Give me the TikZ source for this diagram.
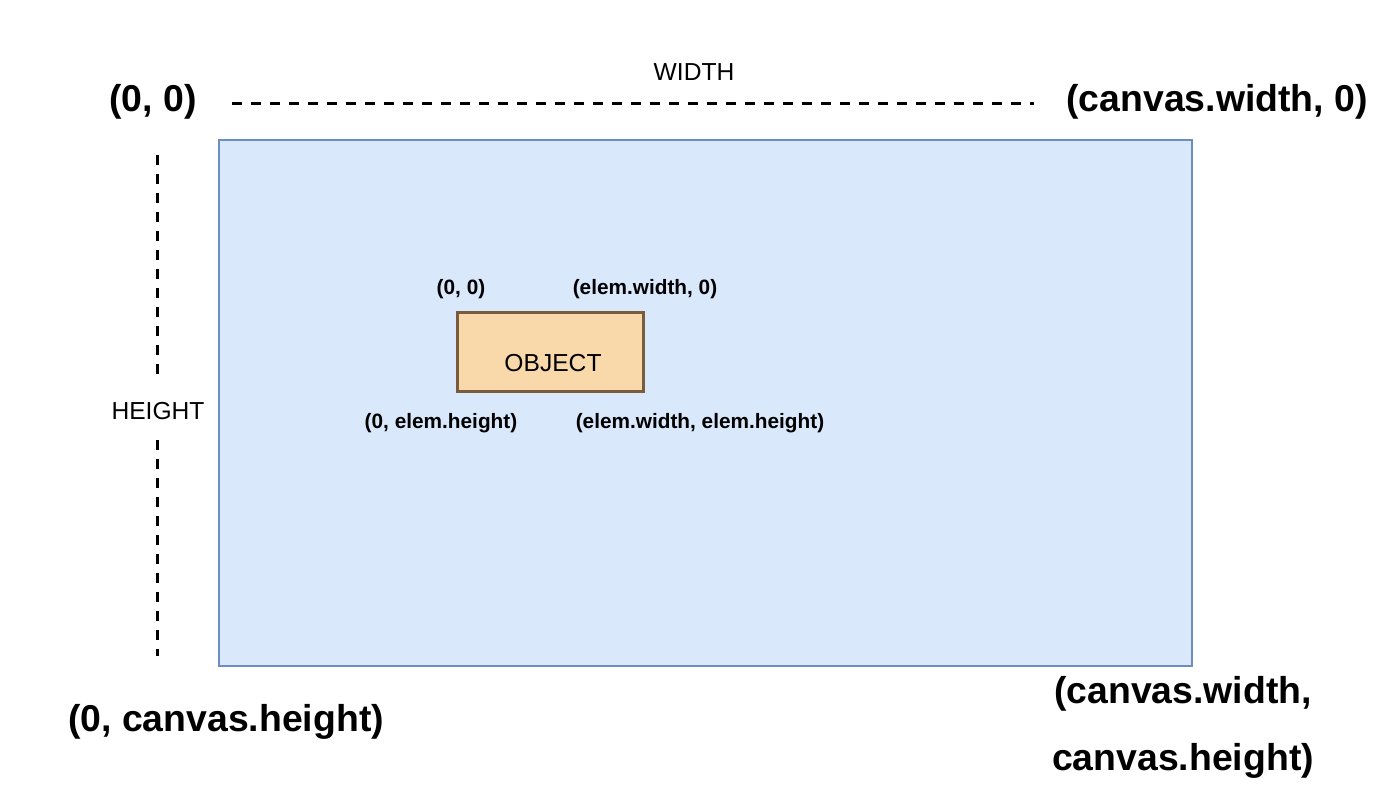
\documentclass[tikz,border=0pt]{standalone}
\usepackage{fontspec}
\setmainfont{Liberation Sans}
\definecolor{canvasfill}{HTML}{DAE8FC}
\definecolor{canvasline}{HTML}{6C8EBF}
\definecolor{objfill}{HTML}{F9D8AA}
\definecolor{objline}{HTML}{7A5C3C}
\begin{document}
\begin{tikzpicture}[x=0.5pt,y=-0.5pt,
  biglabel/.style={font=\fontsize{18.7pt}{22pt}\selectfont\bfseries, inner sep=0pt, align=center},
  smalllabel/.style={font=\fontsize{10.4pt}{12pt}\selectfont\bfseries, inner sep=0pt},
  dimlabel/.style={font=\fontsize{12.3pt}{14pt}\selectfont, inner sep=0pt},
  dimline/.style={line width=1.5pt, dash pattern=on 5pt off 4.5pt}]
\useasboundingbox (0,0) rectangle (1400,798);
\node[draw=canvasline, fill=canvasfill, line width=1.2pt, minimum width=486.5pt, minimum height=263pt, inner sep=0pt] (canvas) at (705.5,403) {};
\node[draw=objline, fill=objfill, line width=1.5pt, minimum width=93pt, minimum height=39.5pt, inner sep=0pt] (obj) at (550,351.5) {};
\node[dimlabel] (objlabel) at (553,363) {OBJECT};
\node[biglabel] (tl) at (153,102) {(0, 0)};
\node[biglabel] (tr) at (1217,102) {(canvas.width, 0)};
\node[biglabel] (bl) at (226,722) {(0, canvas.height)};
\node[biglabel, text width=260pt, font=\fontsize{18.7pt}{33.5pt}\selectfont\bfseries] (br) at (1183,727) {(canvas.width,\\canvas.height)};
\node[dimlabel] (wlabel) at (694,72) {WIDTH};
\node[dimlabel, inner ysep=10pt] (hlabel) at (158,411) {HEIGHT};
\node[smalllabel] (otl) at (461,289) {(0, 0)};
\node[smalllabel] (otr) at (645,289) {(elem.width, 0)};
\node[smalllabel] (obl) at (441,423) {(0, elem.height)};
\node[smalllabel] (obr) at (700,423) {(elem.width, elem.height)};
\coordinate (wl) at (232,103);
\coordinate (wr) at (1034,103);
\coordinate (ht) at (157.5,155);
\coordinate (hb) at (157.5,656);
\draw[dimline] (wl) -- (wr);
\draw[dimline] (ht) -- (ht |- hlabel.north);
\draw[dimline] (hb |- hlabel.south) -- (hb);
\end{tikzpicture}
\end{document}
